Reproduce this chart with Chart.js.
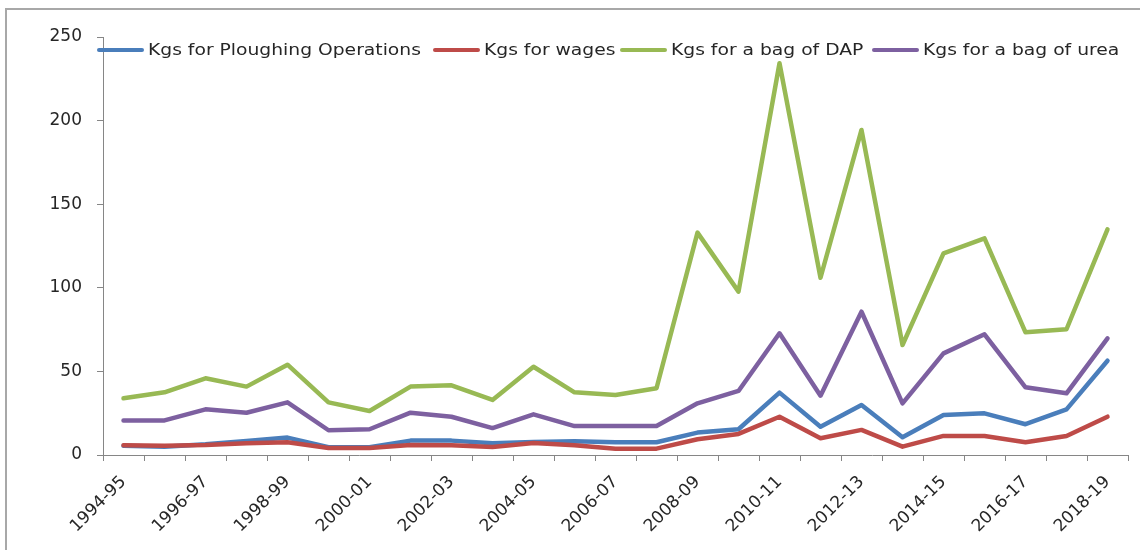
<!DOCTYPE html>
<html>
<head>
<meta charset="utf-8">
<script src="https://cdn.jsdelivr.net/npm/chart.js@4"></script>
<style>
  html, body { margin: 0; padding: 0; background: #fff; }
  #frame { position: absolute; left: 5px; top: 8px; width: 1140px; height: 600px; border: 2px solid #a8a8a8; box-sizing: border-box; }
  #wrap { position: absolute; left: 0; top: 0; width: 1140px; height: 550px; }
</style>
</head>
<body>
<div id="frame"></div>
<div id="wrap"><canvas id="chart" width="1140" height="550"></canvas></div>
<script>
const years = ["1994-95","1995-96","1996-97","1997-98","1998-99","1999-00","2000-01","2001-02","2002-03","2003-04",
  "2004-05","2005-06","2006-07","2007-08","2008-09","2009-10","2010-11","2011-12","2012-13","2013-14",
  "2014-15","2015-16","2016-17","2017-18","2018-19"];

const ploughing = [5.5, 5, 6.4, 8.4, 10.4, 4.6, 4.6, 8.6, 8.6, 7, 7.8, 8.2, 7.6, 7.6, 13.4, 15.4, 37.3, 16.9, 29.9, 10.6, 23.9, 24.9, 18.4, 27.3, 56.4];
const wages = [5.8, 5.6, 6, 7, 7.6, 4.2, 4.2, 6, 5.8, 4.8, 7.2, 5.8, 3.8, 3.8, 9.4, 12.6, 22.9, 10, 15, 5, 11.4, 11.4, 7.6, 11.4, 22.9];
const dap = [33.9, 37.5, 45.9, 40.9, 54, 31.5, 26.3, 40.9, 41.7, 32.9, 52.8, 37.5, 35.9, 39.9, 133, 97.7, 234.3, 106, 194.4, 65.8, 120.6, 129.6, 73.4, 75.2, 135];
const urea = [20.7, 20.7, 27.3, 25.3, 31.5, 14.8, 15.4, 25.3, 22.9, 16.1, 24.3, 17.3, 17.3, 17.3, 30.9, 38.3, 72.8, 35.5, 85.7, 30.9, 60.8, 72.2, 40.5, 36.9, 69.8];

const seriesNames = ["Kgs for Ploughing Operations", "Kgs for wages", "Kgs for a bag of DAP", "Kgs for a bag of urea"];
const seriesColors = ["#4a7ebb", "#be4b48", "#98b954", "#7d60a0"];
const yTicks = [0, 50, 100, 150, 200, 250];

const FONT = "'DejaVu Sans', sans-serif";

// legend drawn inside the plot, like the Excel original
const legendX = [97, 433, 620, 872];
const overlayLegend = {
  id: 'overlayLegend',
  afterDraw(chart) {
    const ctx = chart.ctx;
    const y = 50;
    ctx.save();
    chart.data.datasets.forEach((ds, i) => {
      const x = legendX[i];
      ctx.strokeStyle = ds.borderColor;
      ctx.lineWidth = 4;
      ctx.lineCap = 'round';
      ctx.beginPath();
      ctx.moveTo(x + 2, y);
      ctx.lineTo(x + 45, y);
      ctx.stroke();
      ctx.save();
      ctx.translate(x + 51, y);
      ctx.scale(1.17, 1);
      ctx.fillStyle = '#262626';
      ctx.font = "16px " + FONT;
      ctx.textBaseline = 'middle';
      ctx.textAlign = 'left';
      ctx.fillText(ds.label, 0, 1);
      ctx.restore();
    });
    ctx.restore();
  }
};

const datasets = [ploughing, wages, dap, urea].map((vals, i) => ({
  label: seriesNames[i],
  data: vals,
  borderColor: seriesColors[i],
  backgroundColor: seriesColors[i],
  borderWidth: 4.5,
  pointRadius: 0,
  tension: 0,
  borderJoinStyle: 'round',
  borderCapStyle: 'round',
  order: 3 - i
}));

new Chart(document.getElementById('chart'), {
  type: 'line',
  data: { labels: years, datasets: datasets },
  options: {
    responsive: false,
    animation: false,
    layout: { padding: { top: 37, right: 12, left: 0, bottom: 0 } },
    plugins: { legend: { display: false }, tooltip: { enabled: false } },
    scales: {
      x: {
        offset: true,
        grid: { offset: true, drawOnChartArea: false, drawTicks: true, tickLength: 6, color: '#868686', lineWidth: 1 },
        border: { color: '#868686', width: 1 },
        ticks: {
          autoSkip: false,
          maxRotation: 45,
          minRotation: 45,
          padding: 11,
          color: '#262626',
          font: { family: FONT, size: 17 },
          callback: function (v, i) { return i % 2 === 0 ? this.getLabelForValue(v) : ''; }
        },
        afterFit(scale) { scale.height = 95; }
      },
      y: {
        min: 0,
        max: 250,
        afterBuildTicks(scale) { scale.ticks = yTicks.map(v => ({ value: v })); },
        grid: { drawOnChartArea: false, drawTicks: true, tickLength: 6, color: '#868686', lineWidth: 1 },
        border: { color: '#868686', width: 1 },
        ticks: { padding: 15, color: '#262626', font: { family: FONT, size: 17 } },
        afterFit(scale) { scale.width = 103; }
      }
    }
  },
  plugins: [overlayLegend]
});
</script>
</body>
</html>
